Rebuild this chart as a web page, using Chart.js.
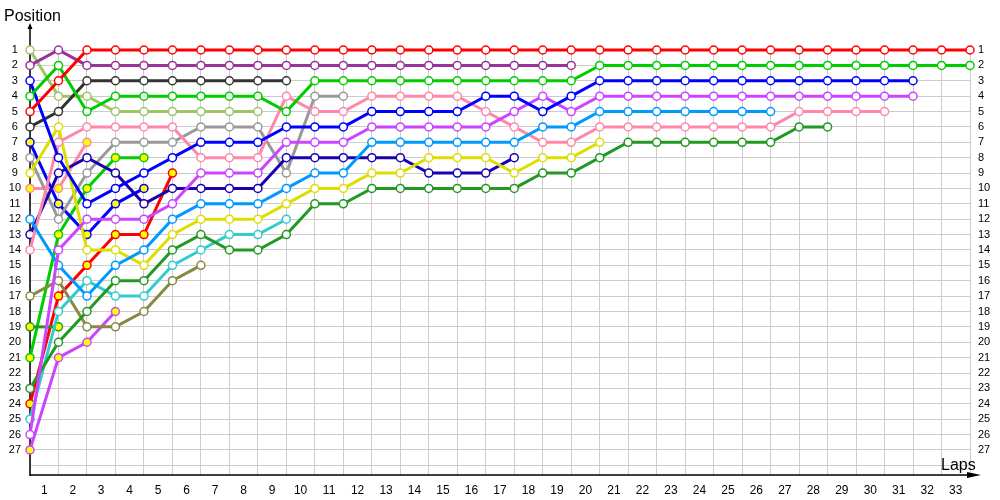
<!DOCTYPE html>
<html><head><meta charset="utf-8">
<script src="https://cdn.jsdelivr.net/npm/chart.js@4.4.1/dist/chart.umd.min.js"></script>
<style>html,body{margin:0;padding:0;background:#fff;}#wrap{width:1000px;height:500px;}</style>
</head><body><div id="wrap"><canvas id="c" width="1000" height="500"></canvas></div>
<script>
// ---- tick values / labels ----
const lapTicks = [0,1,2,3,4,5,6,7,8,9,10,11,12,13,14,15,16,17,18,19,20,21,22,23,24,25,26,27,28,29,30,31,32,33];
const xTickLabels = ['1','2','3','4','5','6','7','8','9','10','11','12','13','14','15','16','17','18','19','20','21','22','23','24','25','26','27','28','29','30','31','32','33'];
const positionGrid = [1,2,3,4,5,6,7,8,9,10,11,12,13,14,15,16,17,18,19,20,21,22,23,24,25,26,27,28];
const positionLabels = ['1','2','3','4','5','6','7','8','9','10','11','12','13','14','15','16','17','18','19','20','21','22','23','24','25','26','27'];

// ---- positions per lap (index 0 = grid / lap 0) ----
const redCar      = [5,3,1,1,1,1,1,1,1,1,1,1,1,1,1,1,1,1,1,1,1,1,1,1,1,1,1,1,1,1,1,1,1,1];
const purpleCar   = [2,1,2,2,2,2,2,2,2,2,2,2,2,2,2,2,2,2,2,2];
const blackCar    = [6,5,3,3,3,3,3,3,3,3];
const greenCar    = [4,2,5,4,4,4,4,4,4,5,3,3,3,3,3,3,3,3,3,3,2,2,2,2,2,2,2,2,2,2,2,2,2,2];
const limeCar     = [1,4,4,5,5,5,5,5,5];
const pinkCar     = [14,7,6,6,6,6,8,8,8,4,5,5,4,4,4,4,5,6,7,7,6,6,6,6,6,6,6,5,5,5,5];
const pinkCar2    = [10,10,7];
const grayCar     = [8,12,9,7,7,7,6,6,6,9,4,4];
const forestCar   = [23,20,18,16,16,14,13,14,14,13,11,11,10,10,10,10,10,10,9,9,8,7,7,7,7,7,7,6,6];
const forestCar2  = [19,19];
const yellowCar   = [9,6,14,14,15,13,12,12,12,11,10,10,9,9,8,8,8,9,8,8,7];
const blueCar     = [3,8,11,10,9,8,7,7,7,6,6,6,5,5,5,5,4,4,5,4,3,3,3,3,3,3,3,3,3,3,3,3];
const blueCar2    = [7,11,13,11,10];
const navyCar     = [13,9,8,9,11,10,10,10,10,8,8,8,8,8,9,9,9,8];
const violetCar   = [26,14,12,12,12,11,9,9,9,7,7,7,6,6,6,6,6,5,4,5,4,4,4,4,4,4,4,4,4,4,4,4];
const violetCar2  = [27,21,20,18];
const skyCar      = [12,15,17,15,14,12,11,11,11,10,9,9,7,7,7,7,7,7,6,6,5,5,5,5,5,5,5];
const cyanCar     = [25,18,16,17,17,15,14,13,13,12];
const oliveCar    = [17,16,19,19,18,16,15];
const redCar2     = [24,17,15,13,13,9];
const greenCar2   = [21,13,10,8,8];

// ---- styling (separate from data) ----
const series = [
  {name:'red', values:redCar, color:'#ff0000', pit:false},
  {name:'purple', values:purpleCar, color:'#993399', pit:false},
  {name:'green', values:greenCar, color:'#00cc00', pit:false},
  {name:'blue', values:blueCar, color:'#0000ff', pit:false},
  {name:'violet', values:violetCar, color:'#cc44ff', pit:false},
  {name:'sky', values:skyCar, color:'#0099ff', pit:false},
  {name:'pink', values:pinkCar, color:'#ff88aa', pit:false},
  {name:'forest', values:forestCar, color:'#229922', pit:false},
  {name:'yellow', values:yellowCar, color:'#dddd00', pit:false},
  {name:'navy', values:navyCar, color:'#1a00b0', pit:false},
  {name:'gray', values:grayCar, color:'#999999', pit:false},
  {name:'black', values:blackCar, color:'#333333', pit:false},
  {name:'lime', values:limeCar, color:'#a0c468', pit:false},
  {name:'cyan', values:cyanCar, color:'#33cccc', pit:false},
  {name:'olive', values:oliveCar, color:'#888844', pit:false},
  {name:'pink2', values:pinkCar2, color:'#ff88aa', pit:true},
  {name:'forest2', values:forestCar2, color:'#229922', pit:true},
  {name:'blue2', values:blueCar2, color:'#0000ff', pit:true},
  {name:'violet2', values:violetCar2, color:'#cc44ff', pit:true},
  {name:'red2', values:redCar2, color:'#ff0000', pit:true},
  {name:'green2', values:greenCar2, color:'#00cc00', pit:true}
];

const datasets = series.map(s => ({
  label: s.name,
  data: s.values.map((v, i) => ({x: lapTicks[i], y: v})),
  borderColor: s.color,
  backgroundColor: s.color,
  borderWidth: 3,
  pointRadius: 4,
  pointHoverRadius: 4,
  pointBorderWidth: 1.5,
  pointBorderColor: s.color,
  pointBackgroundColor: s.pit ? '#ffff00' : '#ffffff',
  tension: 0,
  clip: false
}));

const FONT = "'Liberation Sans', Arial, sans-serif";

const deco = {
  id: 'deco',
  beforeDatasetsDraw(chart) {
    const {ctx, chartArea: a} = chart;
    ctx.save();
    ctx.strokeStyle = '#000';
    ctx.lineWidth = 1.5;
    ctx.beginPath();
    ctx.moveTo(a.left, a.bottom + 1);
    ctx.lineTo(a.left, 26);
    ctx.moveTo(a.left, a.bottom);
    ctx.lineTo(972, a.bottom);
    ctx.stroke();
    ctx.fillStyle = '#000';
    ctx.beginPath();
    ctx.moveTo(a.left, 23); ctx.lineTo(a.left - 2.5, 29); ctx.lineTo(a.left + 2.5, 29); ctx.closePath(); ctx.fill();
    ctx.beginPath();
    ctx.moveTo(981, a.bottom); ctx.lineTo(967, a.bottom - 3); ctx.lineTo(967, a.bottom + 3); ctx.closePath(); ctx.fill();
    ctx.font = '16px ' + FONT;
    ctx.textBaseline = 'alphabetic';
    ctx.textAlign = 'left';
    ctx.fillText('Position', 4, 21);
    ctx.fillText('Laps', 941, 470);
    ctx.restore();
  }
};

new Chart(document.getElementById('c'), {
  type: 'line',
  data: {datasets},
  options: {
    responsive: false,
    animation: false,
    events: [],
    layout: {padding: {top: 50, left: 0, right: 0, bottom: 0}},
    plugins: {legend: {display: false}, tooltip: {enabled: false}},
    scales: {
      x: {
        type: 'linear', min: 0, max: 33, position: 'bottom',
        afterBuildTicks: s => { s.ticks = lapTicks.map(v => ({value: v})); },
        afterFit: s => { s.height = 25; },
        grid: {color: '#cccccc', lineWidth: 1, drawTicks: false},
        border: {display: false},
        ticks: {autoSkip: false, maxRotation: 0, padding: 8, labelOffset: 14.24, color: '#000',
          font: {family: FONT, size: 12},
          callback: (v, i) => xTickLabels[i] !== undefined ? xTickLabels[i] : ''}
      },
      y: {
        type: 'linear', reverse: true, min: 1, max: 28.63, position: 'left',
        afterBuildTicks: s => { s.ticks = positionGrid.map(v => ({value: v})); },
        afterFit: s => { s.width = 30; },
        grid: {color: '#cccccc', lineWidth: 1, drawTicks: false},
        border: {display: false},
        ticks: {autoSkip: false, padding: 9, crossAlign: 'center', color: '#000',
          font: {family: FONT, size: 11},
          callback: (v, i) => positionLabels[i] !== undefined ? positionLabels[i] : ''}
      },
      y2: {
        type: 'linear', reverse: true, min: 1, max: 28.63, position: 'right',
        afterBuildTicks: s => { s.ticks = positionGrid.map(v => ({value: v})); },
        afterFit: s => { s.width = 30; },
        grid: {display: false, drawTicks: false},
        border: {display: false},
        ticks: {autoSkip: false, padding: 8, color: '#000',
          font: {family: FONT, size: 11},
          callback: (v, i) => positionLabels[i] !== undefined ? positionLabels[i] : ''}
      }
    }
  },
  plugins: [deco]
});
</script>
</body></html>
